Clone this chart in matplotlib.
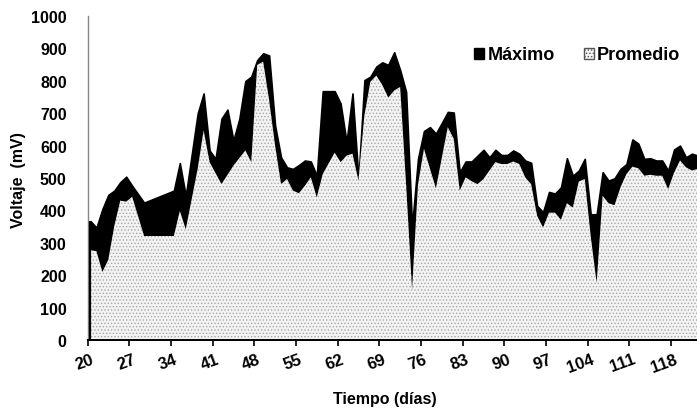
import matplotlib
matplotlib.use("Agg")
import matplotlib.pyplot as plt
from matplotlib.patches import Patch

plt.rcParams['font.family'] = ['Liberation Sans', 'DejaVu Sans']
plt.rcParams['font.weight'] = 'bold'
plt.rcParams['hatch.linewidth'] = 0.6

# ---- data ----
dias_max = [20, 21, 22, 23, 24, 25, 26, 27, 29, 34, 35, 36, 38, 39, 40, 41, 42, 43, 44, 45,
            46, 47, 48, 49, 50, 51, 52, 53, 54, 55, 56, 57, 58, 59, 61, 62, 63, 64, 65, 66,
            67, 68, 69, 70, 71, 72, 73, 74, 75, 76, 77, 78, 79, 80, 81, 82, 83, 84, 85, 86,
            87, 88, 89, 90, 91, 92, 93, 94, 95, 96, 97, 98, 99, 100, 101, 102, 103, 104, 105, 106,
            107, 108, 109, 110, 111, 112, 113, 114, 115, 116, 117, 118, 119, 120, 121, 122]
maximo = [367, 347, 404, 448, 461, 487, 504, 476, 424, 461, 546, 445, 699, 761, 585, 559, 683, 711, 616, 683,
          799, 813, 864, 885, 878, 662, 564, 533, 528, 540, 554, 551, 507, 768, 768, 730, 611, 761, 497, 802,
          813, 844, 857, 849, 888, 833, 766, 350, 560, 645, 657, 637, 670, 704, 702, 518, 551, 551, 569, 587,
          564, 587, 571, 571, 585, 575, 554, 547, 414, 395, 457, 452, 471, 561, 507, 523, 559, 388, 388, 518,
          492, 499, 528, 543, 619, 606, 559, 561, 554, 554, 523, 588, 600, 564, 575, 569]

dias_prom = [20, 21, 22, 23, 24, 25, 26, 27, 29, 34, 35, 36, 38, 39, 40, 42, 44, 46, 47, 48,
             49, 50, 51, 52, 53, 54, 55, 56, 57, 58, 59, 61, 62, 63, 64, 65, 66, 67, 68, 69,
             70, 71, 72, 73, 74, 75, 76, 78, 80, 81, 82, 83, 84, 85, 86, 87, 88, 89, 90, 91,
             92, 93, 94, 95, 96, 97, 98, 99, 100, 101, 102, 103, 104, 105, 106, 107, 108, 109, 110, 111,
             112, 113, 114, 115, 116, 117, 118, 119, 120, 121, 122]
promedio = [277, 274, 210, 248, 352, 430, 427, 442, 321, 321, 398, 342, 528, 647, 549, 481, 538, 585, 549, 849,
            859, 740, 600, 481, 497, 461, 453, 476, 502, 440, 512, 578, 549, 569, 575, 492, 693, 797, 816, 787,
            748, 770, 781, 480, 155, 480, 590, 468, 657, 621, 461, 502, 490, 481, 497, 523, 549, 543, 543, 551,
            543, 502, 481, 383, 347, 393, 393, 371, 422, 409, 489, 497, 320, 176, 445, 422, 416, 471, 512, 535,
            530, 507, 510, 507, 507, 466, 516, 554, 533, 523, 528]

etiquetas_x = [20, 27, 34, 41, 48, 55, 62, 69, 76, 83, 90, 97, 104, 111, 118]
ticks_y = [0, 100, 200, 300, 400, 500, 600, 700, 800, 900, 1000]

# ---- figure ----
W, H = 697, 414
fig = plt.figure(figsize=(W / 100, H / 100), dpi=100)
ax = fig.add_axes([87.5 / W, (H - 341) / H, (W - 87.5) / W, (341 - 17) / H])

ax.fill_between(dias_max, 0, maximo, facecolor='black', edgecolor='black', linewidth=1.2, zorder=2)
ax.fill_between(dias_prom, 0, promedio, facecolor='#f3f3f3', edgecolor='#a8a8a8', hatch='.....',
                linewidth=0, zorder=3)
ax.vlines(dias_max[0], 0, maximo[0], color='black', linewidth=1.6, zorder=4)

ax.set_xlim(19.5, 121.85)
ax.set_ylim(0, 1000)

# x axis: tick marks between categories, labels at category centres
ax.set_xticks([d - 0.5 for d in etiquetas_x])
ax.set_xticklabels([])
ax.set_xticks(etiquetas_x, minor=True)
ax.set_xticklabels([str(d) for d in etiquetas_x], minor=True, rotation=20, ha='right', va='top',
                   rotation_mode='anchor', fontsize=12, fontweight='bold')
ax.tick_params(axis='x', which='major', direction='out', length=4, width=1.2, color='black')
ax.tick_params(axis='x', which='minor', length=0, pad=8)

ax.set_yticks(ticks_y)
ax.set_yticklabels([str(v) for v in ticks_y], fontsize=11.5, fontweight='bold')
ax.tick_params(axis='y', length=0, pad=15)

for s in ['top', 'right']:
    ax.spines[s].set_visible(False)
ax.spines['left'].set_color('#868686')
ax.spines['left'].set_linewidth(1.0)
ax.spines['bottom'].set_color('black')
ax.spines['bottom'].set_linewidth(1.4)
ax.spines['bottom'].set_zorder(5)

fig.text(19 / W, 1 - 180 / H, 'Voltaje  (mV)', rotation=90, ha='center', va='center',
         fontsize=11.5, fontweight='bold')
fig.text(385 / W, 1 - 400 / H, 'Tiempo (días)', ha='center', va='center',
         fontsize=11.5, fontweight='bold')

handles = [Patch(facecolor='black', edgecolor='black', label='Máximo'),
           Patch(facecolor='#f3f3f3', edgecolor='#555555', hatch='.....', label='Promedio')]
fig.legend(handles=handles, loc='center left', bbox_to_anchor=(474 / W, 1 - 56 / H),
           bbox_transform=fig.transFigure, ncol=2, frameon=False,
           prop={'weight': 'bold', 'size': 13}, handlelength=0.55, handleheight=0.55,
           handletextpad=0.2, columnspacing=1.6, borderpad=0, borderaxespad=0)

fig.savefig('out.png', dpi=100)
